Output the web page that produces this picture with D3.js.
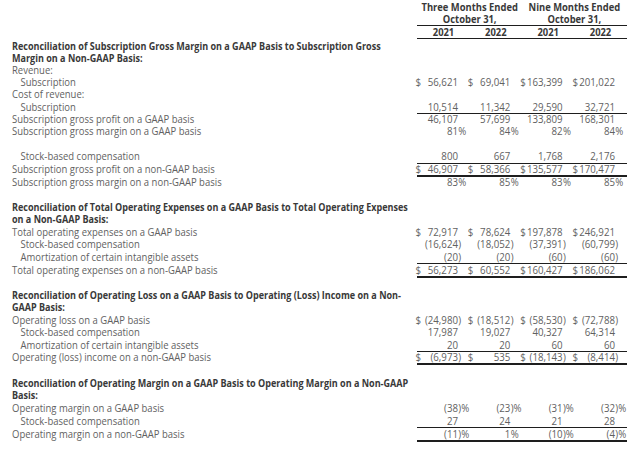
<!DOCTYPE html>
<html>
<head>
<meta charset="utf-8">
<script src="https://cdn.jsdelivr.net/npm/d3@7/dist/d3.min.js"></script>
<style>
  html, body { margin: 0; padding: 0; background: #fff; }
  svg { display: block; }
  text { font-family: "Open Sans", sans-serif; }
</style>
</head>
<body>
<svg id="chart" width="640" height="455"></svg>
<script>
// ---------- DATA ----------
const periods = ["Three Months Ended", "Nine Months Ended"];
const periodEnd = "October 31,";
const columns = ["2021", "2022", "2021", "2022"];

const subscriptionRevenue = [56621, 69041, 163399, 201022];
const subscriptionCost = [10514, 11342, 29590, 32721];
const grossProfitGAAP = [46107, 57699, 133809, 168301];
const grossMarginGAAP = [81, 84, 82, 84];
const grossSBC = [800, 667, 1768, 2176];
const grossProfitNonGAAP = [46907, 58366, 135577, 170477];
const grossMarginNonGAAP = [83, 85, 83, 85];

const opexGAAP = [72917, 78624, 197878, 246921];
const opexSBC = [-16624, -18052, -37391, -60799];
const opexAmort = [-20, -20, -60, -60];
const opexNonGAAP = [56273, 60552, 160427, 186062];

const opLossGAAP = [-24980, -18512, -58530, -72788];
const opSBC = [17987, 19027, 40327, 64314];
const opAmort = [20, 20, 60, 60];
const opIncomeNonGAAP = [-6973, 535, -18143, -8414];

const opMarginGAAP = [-38, -23, -31, -32];
const opMarginSBC = [27, 24, 21, 28];
const opMarginNonGAAP = [-11, 1, -10, -4];

// ---------- ROW TABLE ----------
const rows = [
  {title: "Reconciliation of Subscription Gross Margin on a GAAP Basis to Subscription Gross"},
  {title: "Margin on a Non-GAAP Basis:"},
  {label: "Revenue:"},
  {label: "Subscription", indent: true, values: subscriptionRevenue, dollar: true},
  {label: "Cost of revenue:"},
  {label: "Subscription", indent: true, values: subscriptionCost, rule: "single"},
  {label: "Subscription gross profit on a GAAP basis", values: grossProfitGAAP},
  {label: "Subscription gross margin on a GAAP basis", values: grossMarginGAAP, pct: true},
  {},
  {label: "Stock-based compensation", indent: true, values: grossSBC, rule: "single"},
  {label: "Subscription gross profit on a non-GAAP basis", values: grossProfitNonGAAP, dollar: true, rule: "double"},
  {label: "Subscription gross margin on a non-GAAP basis", values: grossMarginNonGAAP, pct: true},
  {},
  {title: "Reconciliation of Total Operating Expenses on a GAAP Basis to Total Operating Expenses"},
  {title: "on a Non-GAAP Basis:"},
  {label: "Total operating expenses on a GAAP basis", values: opexGAAP, dollar: true},
  {label: "Stock-based compensation", indent: true, values: opexSBC},
  {label: "Amortization of certain intangible assets", indent: true, values: opexAmort, rule: "single"},
  {label: "Total operating expenses on a non-GAAP basis", values: opexNonGAAP, dollar: true, rule: "double"},
  {},
  {title: "Reconciliation of Operating Loss on a GAAP Basis to Operating (Loss) Income on a Non-"},
  {title: "GAAP Basis:"},
  {label: "Operating loss on a GAAP basis", values: opLossGAAP, dollar: true},
  {label: "Stock-based compensation", indent: true, values: opSBC},
  {label: "Amortization of certain intangible assets", indent: true, values: opAmort, rule: "single"},
  {label: "Operating (loss) income on a non-GAAP basis", values: opIncomeNonGAAP, dollar: true, rule: "double"},
  {},
  {title: "Reconciliation of Operating Margin on a GAAP Basis to Operating Margin on a Non-GAAP"},
  {title: "Basis:"},
  {label: "Operating margin on a GAAP basis", values: opMarginGAAP, pct: true},
  {label: "Stock-based compensation", indent: true, values: opMarginSBC, rule: "single"},
  {label: "Operating margin on a non-GAAP basis", values: opMarginNonGAAP, pct: true, rule: "double"}
];

// ---------- LAYOUT ----------
const svg = d3.select("#chart");
const FS = 10;
const textColor = "#616161";
const boldColor = "#393939";
const ruleColor = "#1e1e1e";
const SX_LABEL = 0.95, SX_BOLD = 0.905, SX_HEAD = 0.94, SX_NUM = 0.97;

const colIdx = d3.range(columns.length);
const xEnd = d3.scalePoint().domain(colIdx).range([458, 615]);   // right edge of number
const dollarOffset = 42.5;
const ruleLeft = xEnd(0) - 41;
const ruleRight = xEnd(columns.length - 1) + 12;
// piecewise row scale: row index -> vertical center
const y = d3.scaleLinear()
  .domain([0, 7, 11, 18, 25, 31])
  .range([46, 131.5, 182, 270, 357.5, 434]);
const base = 3.5; // cap center -> baseline

const labelX = 12, indentX = 20.5;

function addText(sel, x, yy, str, opt) {
  const o = opt || {};
  return sel.append("text")
    .attr("transform", `translate(${x},${yy}) scale(${o.sx || 1},1)`)
    .attr("text-anchor", o.anchor || "start")
    .attr("font-weight", o.bold ? "bold" : null)
    .attr("fill", o.bold ? boldColor : textColor)
    .text(str);
}

function hRule(yy, w) {
  svg.append("line").attr("x1", ruleLeft).attr("x2", ruleRight)
    .attr("y1", yy).attr("y2", yy)
    .attr("stroke", ruleColor).attr("stroke-width", w || 1);
}

// Header
const hdr = svg.append("g").attr("font-size", FS);
periods.forEach((p, i) => {
  const cx = (xEnd(i * 2) + xEnd(i * 2 + 1)) / 2 - 14.5;
  addText(hdr, cx, 7.3 + base, p, {anchor: "middle", bold: true, sx: SX_HEAD});
  addText(hdr, cx, 19.3 + base, periodEnd, {anchor: "middle", bold: true, sx: SX_HEAD});
});
columns.forEach((c, i) => {
  addText(hdr, xEnd(i) - 14.5, 32.7 + base, c, {anchor: "middle", bold: true, sx: SX_HEAD});
});
hRule(25.5);
hRule(38.5);

const fmt = d3.format(",");
function parts(v, pct) {
  const neg = v < 0;
  const core = (neg ? "(" : "") + fmt(Math.abs(v));
  const suffix = (neg ? ")" : "") + (pct ? "%" : "");
  return {core, suffix};
}

const g = svg.append("g").attr("font-size", FS);
rows.forEach((r, i) => {
  const cy = y(i);
  if (r.title) {
    addText(g, labelX, cy + base, r.title, {bold: true, sx: SX_BOLD});
    return;
  }
  if (!r.label) return;
  addText(g, r.indent ? indentX : labelX, cy + base, r.label, {sx: SX_LABEL});
  if (r.values) {
    r.values.forEach((v, j) => {
      const p = parts(v, r.pct);
      const ex = xEnd(j);
      if (r.dollar) addText(g, ex - dollarOffset, cy + base, "$", {sx: SX_NUM});
      addText(g, ex, cy + base, p.core, {anchor: "end", sx: SX_NUM});
      if (p.suffix) addText(g, ex + 0.3, cy + base, p.suffix, {sx: SX_NUM});
    });
  }
  if (r.rule === "single") {
    hRule(Math.round(cy + 6) + 0.5, 1);
  } else if (r.rule === "double") {
    hRule(Math.round(cy + 5.5) + 1, 2);
  }
});
</script>
</body>
</html>
